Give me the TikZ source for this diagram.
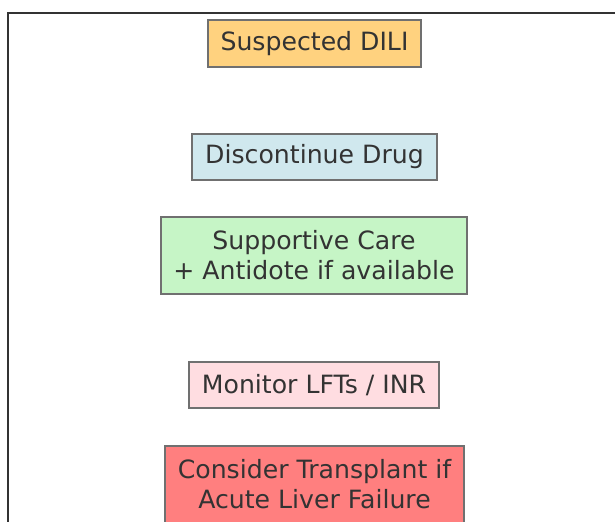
\documentclass[tikz,border=0pt]{standalone}
\usepackage{fontspec}
\setmainfont{DejaVu Sans}
\usetikzlibrary{positioning}
\definecolor{suspect}{RGB}{255,210,127}
\definecolor{stopdrug}{RGB}{208,232,238}
\definecolor{support}{RGB}{198,245,198}
\definecolor{monitor}{RGB}{255,221,225}
\definecolor{transplant}{RGB}{255,127,127}
\definecolor{edge}{RGB}{112,112,112}
\definecolor{ink}{RGB}{51,51,51}

\begin{document}
\begin{tikzpicture}[
    box/.style={draw=edge, line width=1.4pt, text=ink, align=center, inner sep=0pt,
        font=\fontsize{17.9}{21.3}\selectfont},
    frame/.style={draw=ink, line width=0.9pt}
]
\useasboundingbox (0,0) rectangle (15.375,13.05);
\clip (0,0) rectangle (15.375,13.05);

% axes frame, only left and top edges visible
\draw[frame] (0.2,-1) -- (0.2,12.725) -- (16,12.725);

\node[box, fill=suspect, minimum width=5.325cm, minimum height=1.175cm] (dili) at (7.8625, 11.9625) {Suspected DILI};
\node[box, fill=stopdrug, minimum width=6.125cm, minimum height=1.15cm] (stop) at (7.8625, 9.125) {Discontinue Drug};
\node[box, fill=support, minimum width=7.65cm, minimum height=1.925cm] (care) at (7.85, 6.6625) {Supportive Care\\+ Antidote if available};
\node[box, fill=monitor, minimum width=6.25cm, minimum height=1.15cm] (lft) at (7.85, 3.425) {Monitor LFTs / INR};
\node[box, fill=transplant, minimum width=7.475cm, minimum height=1.925cm] (ltx) at (7.8625, 0.9375) {Consider Transplant if\\Acute Liver Failure};

\end{tikzpicture}
\end{document}
